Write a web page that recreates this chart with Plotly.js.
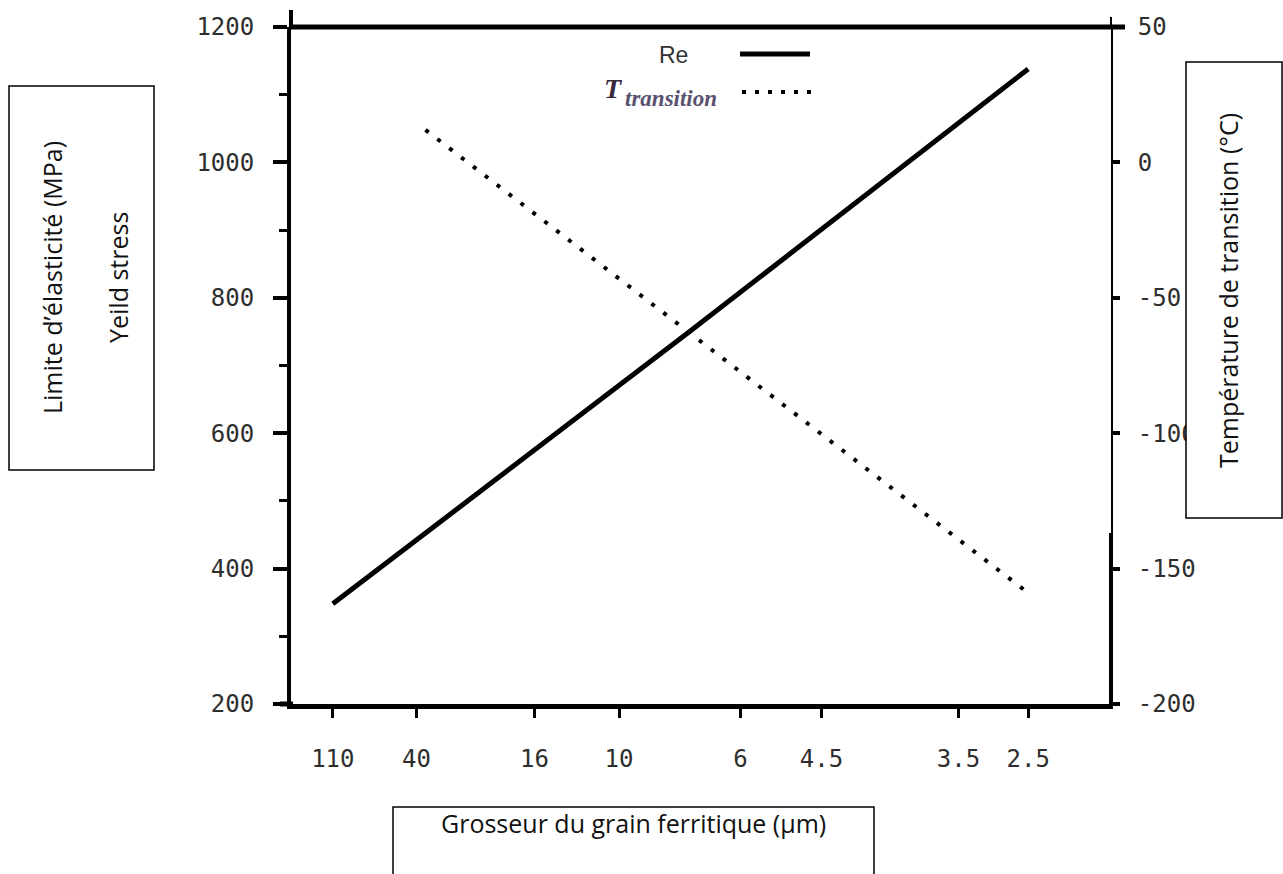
<!DOCTYPE html>
<html>
<head>
<meta charset="utf-8">
<script src="https://cdn.plot.ly/plotly-3.0.1.min.js"></script>
<style>html,body{margin:0;padding:0;background:#fff;}#chart{width:1283px;height:874px;}</style>
</head>
<body>
<div id="chart"></div>
<script>
// ---- data ----
// x axis: grain size ticks placed on an abstract 0-100 position scale
var xTickPos = [5.1, 15.3, 29.7, 40.0, 54.8, 64.7, 81.4, 89.9];
var xTickLabels = ['110', '40', '16', '10', '6', '4.5', '3.5', '2.5'];

// Re (yield stress, MPa) – left axis
var reX = [5.1, 48.5, 89.9];
var reY = [348, 749, 1138];

// T transition (°C) – right axis
var tX = [16.4, 48.5, 89.9];
var tY = [12, -62.6, -159];

var leftTicks = [200, 400, 600, 800, 1000, 1200];
var leftMinor = [300, 500, 700, 900, 1100];
var rightTicks = [-200, -150, -100, -50, 0, 50];
var rightTickLabels = ['-200', '-150', '-100', '-50', '0', '50'];

// ---- layout geometry ----
var L = 291, R = 1111, T = 27, B = 704;
var W = R - L, H = B - T;
function fx(px) { return (px - L) / W; }
function fy(py) { return (B - py) / H; }

var tickFont = {family: 'DejaVu Sans Mono, monospace', size: 24, color: '#2e2e2e'};

// pad right labels so that they line up on their left edge
function padRight(s) { while (s.length < 4) s += '\u00a0'; return s; }

var traces = [
  {x: reX, y: reY, type: 'scatter', mode: 'lines', name: 'Re',
   line: {color: '#000', width: 5}, yaxis: 'y', hoverinfo: 'skip'},
  {x: tX, y: tY, type: 'scatter', mode: 'lines', name: 'T transition',
   line: {color: '#000', width: 4, dash: '4px,11px'}, yaxis: 'y2', hoverinfo: 'skip'}
];

function seg(x0, y0, x1, y1, w, dash) {
  return {type: 'line', xref: 'paper', yref: 'paper', x0: fx(x0), y0: fy(y0), x1: fx(x1), y1: fy(y1),
          line: {color: '#000', width: w, dash: dash || 'solid'}, layer: 'above'};
}
function box(x0, y0, x1, y1) {
  return {type: 'rect', xref: 'paper', yref: 'paper', x0: fx(x0), y0: fy(y0), x1: fx(x1), y1: fy(y1),
          line: {color: '#000', width: 1.5}, fillcolor: '#fff', layer: 'above'};
}

var shapes = [
  seg(289, 27, 1125, 27, 5),       // top line
  seg(291, 10, 291, 29, 4),        // left axis extension
  seg(1111, 17, 1111, 27, 2),      // right axis extension
  seg(1111, 533, 1111, 705, 4),    // right axis thick part
  seg(280, 704, 293, 704, 5),      // bottom axis left extension
  seg(740, 54, 810, 54, 5),        // legend Re
  seg(742, 92, 812, 92, 4, '4px,9px'), // legend T
  box(9, 86, 154, 470),
  box(1186, 62, 1282, 518),
  box(393, 807, 874, 890)
];

var textFont = {family: 'Open Sans, Noto Sans, sans-serif', size: 25, color: '#111'};

function ann(px, py, text, font, angle) {
  var a = {xref: 'paper', yref: 'paper', x: fx(px), y: fy(py), text: text, showarrow: false,
           xanchor: 'center', yanchor: 'middle', font: font};
  if (angle) a.textangle = angle;
  return a;
}

var annotations = [
  ann(673, 55, 'Re', {family: 'Liberation Sans, Arial, sans-serif', size: 23, color: '#333'}),
  ann(613, 89, '<i><b>T</b></i>', {family: 'Liberation Serif, serif', size: 28, color: '#3a2a40'}),
  ann(671, 98, '<i><b>transition</b></i>', {family: 'Liberation Serif, serif', size: 23, color: '#5a5070'}),
  ann(52, 278, 'Limite d\u2019\u00e9lasticit\u00e9 (MPa)', textFont, -90),
  ann(118, 278, 'Yeild stress', textFont, -90),
  ann(1228, 291, 'Temp\u00e9rature de transition (\u00b0C)', textFont, -90),
  ann(633, 823, 'Grosseur du grain ferritique (\u00b5m)', textFont)
];

var layout = {
  width: 1283, height: 874,
  margin: {l: L, r: 1283 - R, t: T, b: 874 - B, pad: 0},
  paper_bgcolor: '#fff', plot_bgcolor: '#fff',
  showlegend: false,
  xaxis: {range: [0, 100], showline: true, linewidth: 5, linecolor: '#000',
          ticks: 'outside', ticklen: 9, tickwidth: 3, tickcolor: '#000',
          tickmode: 'array', tickvals: xTickPos, ticktext: xTickLabels,
          tickfont: tickFont, ticklabelstandoff: 20,
          showgrid: false, zeroline: false, fixedrange: true},
  yaxis: {range: [200, 1200], showline: true, linewidth: 4, linecolor: '#000',
          ticks: 'outside', ticklen: 14, tickwidth: 4, tickcolor: '#000',
          tickmode: 'array', tickvals: leftTicks, tickfont: tickFont, ticklabelstandoff: 14,
          minor: {tickmode: 'array', tickvals: leftMinor, ticks: 'outside', ticklen: 8, tickwidth: 3, tickcolor: '#000', showgrid: false},
          showgrid: false, zeroline: false, fixedrange: true},
  yaxis2: {range: [-200, 50], overlaying: 'y', side: 'right', showline: true, linewidth: 2, linecolor: '#000',
           ticks: 'outside', ticklen: 7, tickwidth: 4, tickcolor: '#000',
           tickmode: 'array', tickvals: rightTicks, ticktext: rightTickLabels.map(padRight),
           tickfont: tickFont, ticklabelstandoff: 13,
           showgrid: false, zeroline: false, fixedrange: true},
  shapes: shapes,
  annotations: annotations
};

Plotly.newPlot('chart', traces, layout, {displayModeBar: false, staticPlot: true});
</script>
</body>
</html>
